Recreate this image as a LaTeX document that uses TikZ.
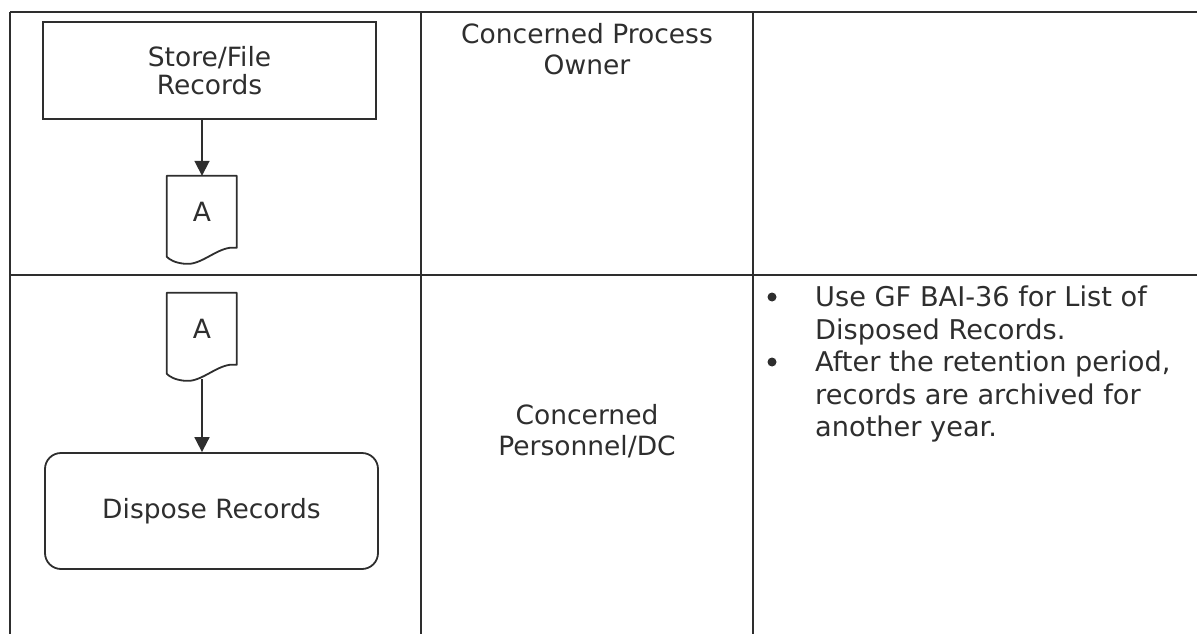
\documentclass[tikz,border=0pt]{standalone}
\usepackage{fontspec}
\setmainfont{DejaVu Sans}
\usetikzlibrary{arrows.meta,calc}
\definecolor{ink}{HTML}{2E2E2E}
\tikzset{
  tline/.style={draw=ink, line width=1.3pt},
  txt/.style={text=ink, font=\fontsize{26.5}{31.5}\selectfont, inner sep=0pt, align=center},
  notetxt/.style={text=ink, font=\fontsize{27.2}{32.2}\selectfont, inner sep=0pt, align=left, anchor=north west},
  procbox/.style={draw=ink, line width=1.8pt, text=ink, font=\fontsize{26.5}{28.5}\selectfont, align=center},
  docbox/.style={draw=none, minimum width=70pt, minimum height=72pt, inner sep=0pt, text=ink, font=\fontsize{26.5}{30}\selectfont},
  arr/.style={draw=ink, line width=1.8pt, -{Triangle[length=15pt,width=15pt]}},
  docline/.style={draw=ink, line width=1.8pt, line join=round},
  bul/.style={circle, fill=ink, inner sep=0pt, minimum size=9pt}
}
\begin{document}
\begin{tikzpicture}[x=1pt,y=-1pt]
\useasboundingbox (0,0) rectangle (1197,634);
% table
\coordinate (tl) at (10,12);
\coordinate (tr) at (1197,12);
\coordinate (ml) at (10,275);
\coordinate (mr) at (1197,275);
\coordinate (bl) at (10,634);
\coordinate (c1t) at (421,12);
\coordinate (c1b) at (421,634);
\coordinate (c2t) at (753,12);
\coordinate (c2b) at (753,634);
\draw[tline] (tl) -- (tr);
\draw[tline] (ml) -- (mr);
\draw[tline] (tl) -- (bl);
\draw[tline] (c1t) -- (c1b);
\draw[tline] (c2t) -- (c2b);
% row 1 flowchart
\node[procbox, minimum width=333pt, minimum height=97pt] (store) at (209.5,70.5) {Store/File\\Records};
\node[docbox] (a1) at (202,212) {A};
\draw[docline, shift={(a1.north west)}] (0,0) -- (70,0) -- (70,72) -- (63,72)
  .. controls (48,74) and (33,90) .. (18,88) .. controls (8,87) and (3,84) .. (0,81) -- cycle;
\draw[arr] (a1.north |- store.south) -- (a1.north);
% row 2 flowchart
\node[docbox] (a2) at (202,329) {A};
\draw[docline, shift={(a2.north west)}] (0,0) -- (70,0) -- (70,72) -- (63,72)
  .. controls (48,74) and (33,90) .. (18,88) .. controls (8,87) and (3,84) .. (0,81) -- cycle;
\node[procbox, rounded corners=16pt, minimum width=333pt, minimum height=116pt] (disp) at (211.5,511) {Dispose Records};
\draw[arr] ([yshift=-14pt]a2.south) -- (a2.south |- disp.north);
% column 2
\node[txt] (own1) at (587,49) {Concerned Process\\Owner};
\node[txt] (own2) at (587,431) {Concerned\\Personnel/DC};
% column 3
\node[bul] (b1) at (772,297) {};
\node[bul] (b2) at (772,362) {};
\node[notetxt] (n1) at (815,286) {Use GF BAI-36 for List of\\Disposed Records.};
\node[notetxt] (n2) at (815,351) {After the retention period,\\records are archived for\\another year.};
\end{tikzpicture}
\end{document}
